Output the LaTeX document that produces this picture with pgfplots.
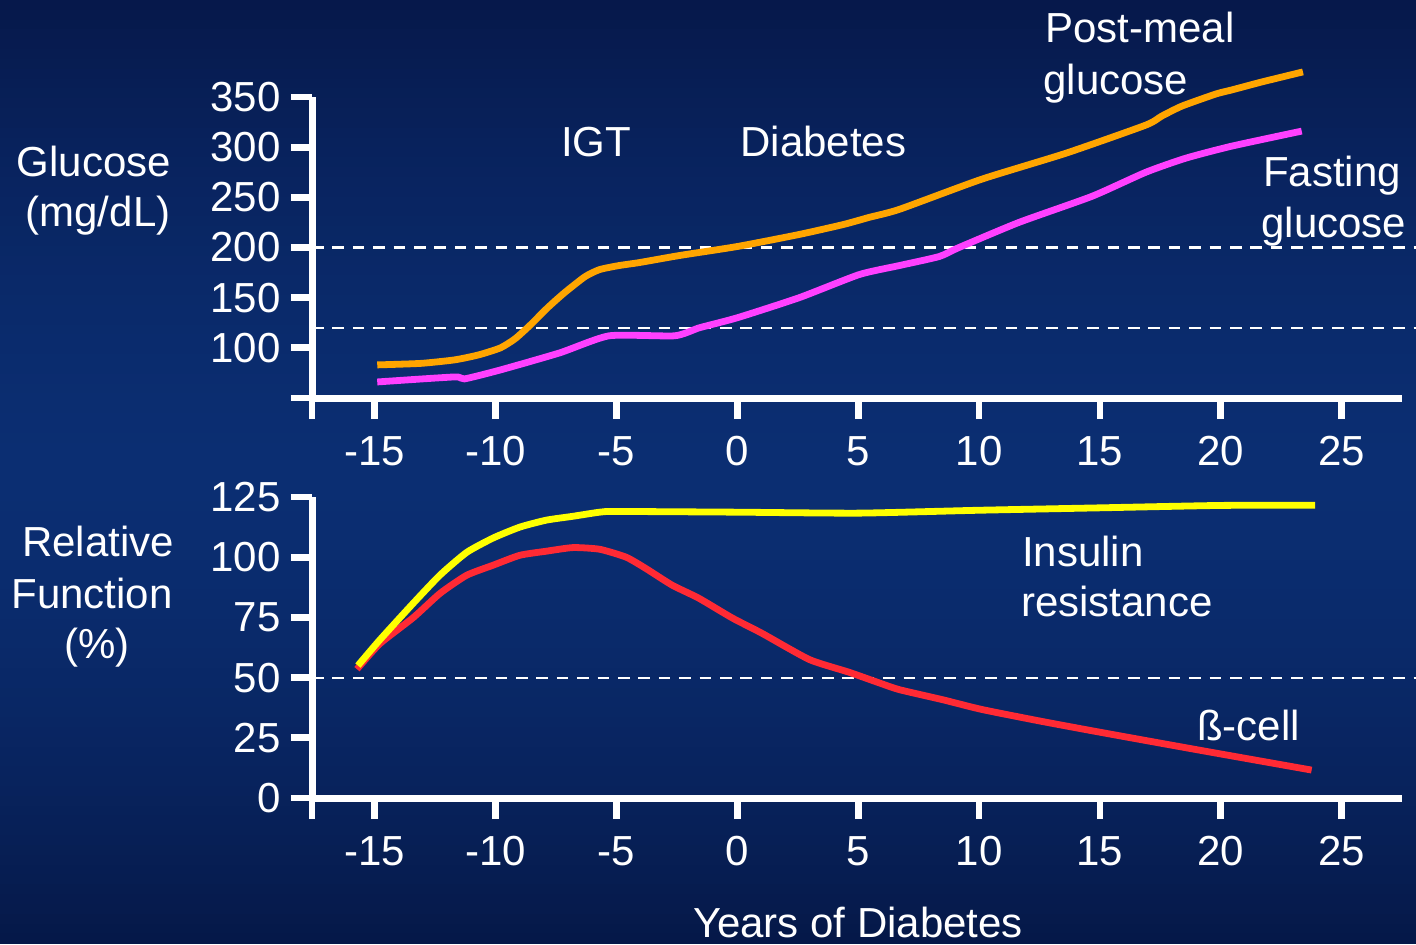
\documentclass[border=0pt]{standalone}
\usepackage{pgfplots}
\pgfplotsset{compat=1.18}
\usepackage{fontspec}
\setmainfont{Liberation Sans}

\definecolor{bgtop}{RGB}{6,24,74}
\definecolor{bgmid}{RGB}{11,46,114}
\definecolor{bgbot}{RGB}{5,24,72}
\definecolor{postmeal}{RGB}{255,165,0}
\definecolor{fasting}{RGB}{255,64,255}
\definecolor{insres}{RGB}{255,255,0}
\definecolor{betacell}{RGB}{255,42,52}

\newcommand{\lbl}{\fontsize{21}{25}\selectfont}

\tikzset{
  threshold/.style={white, line width=1.1pt, dash pattern=on 5.8pt off 4.4pt},
  curve/.style={line width=3.4pt, smooth, tension=0.35, line join=round},
}

\pgfplotsset{
  slide axis/.style={
    scale only axis, width=545pt, height=150.5pt,
    xmin=-17.6, xmax=27.5,
    axis lines=left,
    axis line style={-, white, line width=3.5pt},
    tick align=outside, major tick length=10.5pt,
    tick style={white, line width=3.4pt},
    xtick={-15,-10,...,25},
    extra x ticks={-17.6}, extra x tick labels={},
    ticklabel style={white, font=\lbl},
    xticklabel style={anchor=north, inner sep=0pt, yshift=-8.5pt},
    yticklabel style={anchor=east, inner sep=0pt, xshift=-5pt},
    /pgf/number format/assume math mode=true,
    clip=false,
  },
}

\begin{document}
\begin{tikzpicture}[x=1pt,y=1pt]
  % slide background: vertical gradient, lightest across the middle band
  \foreach \i in {0,...,47} {
    \pgfmathsetmacro\p{100*(1-((\i+0.5)/48)^1.6)}
    \pgfmathsetmacro\ya{236+\i*236/48}
    \pgfmathsetmacro\yb{236+(\i+1)*236/48+0.4}
    \fill[bgmid!\p!bgtop] (0,\ya) rectangle (708,\yb);
    \pgfmathsetmacro\yc{236-\i*236/48+0.4}
    \pgfmathsetmacro\yd{236-(\i+1)*236/48}
    \fill[bgmid!\p!bgbot] (0,\yd) rectangle (708,\yc);
  }

  % glucose panel
  \begin{axis}[slide axis, at={(156pt,273pt)}, anchor=south west,
      ymin=50, ymax=350, ytick={100,150,...,350},
      extra y ticks={50}, extra y tick labels={}]
    \draw[threshold] (axis cs:-17.6,200) -- (axis cs:28.2,200);
    \draw[threshold] (axis cs:-17.6,120) -- (axis cs:28.2,120);
    \addplot[curve, postmeal] coordinates {
      (-14.9,83) (-13.1,84.5) (-11.7,88) (-10.7,93) (-9.8,100) (-9.2,109)
      (-8.6,122) (-7.85,140) (-7.15,155) (-6.3,171) (-5.7,178) (-4.9,182)
      (-4.05,185) (-2.4,192) (0,201) (2.56,213) (4.4,223) (5.45,230)
      (6.7,238) (10.1,268) (13.6,294) (16.9,322) (17.56,331) (18.4,341)
      (19.8,353) (20.45,357) (21.7,365) (23.4,375)};
    \addplot[curve, fasting] coordinates {
      (-14.9,66) (-11.7,71) (-11.3,69) (-9.8,78) (-7.35,95) (-5.3,112)
      (-2.6,112) (-1.57,120) (0,130) (2.56,150) (5.04,173) (6.7,182)
      (8.35,191) (9.17,200) (11.65,225) (14.67,251) (16.9,275) (18.55,289)
      (20.45,301) (23.35,316)};
  \end{axis}

  % relative function panel
  \begin{axis}[slide axis, at={(156pt,73pt)}, anchor=south west,
      ymin=0, ymax=125, ytick={0,25,...,125}]
    \draw[threshold] (axis cs:-17.6,50) -- (axis cs:28.2,50);
    \addplot[curve, betacell] coordinates {
      (-15.74,53.5) (-14.8,64) (-13.4,75) (-12.3,85) (-11.2,92.5) (-10.1,96.7)
      (-9,100.8) (-7.9,102.5) (-6.8,104) (-5.7,103.3) (-4.6,100) (-3.8,95.4)
      (-2.7,88.4) (-1.6,83) (-0.2,74.7) (1,68.5) (2.98,57.5)
      (4.6,52.3) (5.9,47.7) (6.7,45) (8.5,40.8) (10.1,36.8) (12.5,32)
      (14.96,27.4) (19.1,19.9) (23.76,11.6)};
    \addplot[curve, insres] coordinates {
      (-15.7,55) (-14.8,65.6) (-13.4,81) (-12.3,92.6) (-11.2,102) (-10.1,108)
      (-9,112.5) (-7.9,115.4) (-6.8,117) (-5.7,118.7) (-5,119) (0,118.7)
      (5,118.3) (10,119.5) (15,120.5) (20,121.5) (23.9,121.6)};
  \end{axis}

  % annotations
  \begin{scope}[every node/.style={text=white, font=\lbl, inner sep=0pt}]
    \node[anchor=base] at (47,383.5) {Glucose};
    \node[anchor=base] at (49,358.5) {(mg/dL)};
    \node[anchor=base] at (298,393.5) {IGT};
    \node[anchor=base west] at (370,393.5) {Diabetes};
    \node[anchor=base west] at (522.5,450.7) {Post-meal};
    \node[anchor=base west] at (521.5,424.9) {glucose};
    \node[anchor=base west] at (631.4,378.7) {Fasting};
    \node[anchor=base west] at (630.5,353.4) {glucose};
    \node[anchor=base] at (49,194) {Relative};
    \node[anchor=base] at (46,168) {Function};
    \node[anchor=base] at (48.5,143) {(\%)};
    \node[anchor=base west] at (510.8,189) {Insulin};
    \node[anchor=base west] at (510.4,163.7) {resistance};
    \node[anchor=base west] at (598.4,102) {ß-cell};
    \node[anchor=base] at (429,3.5) {Years of Diabetes};
  \end{scope}

  \pgfresetboundingbox
  \path[use as bounding box] (0,0) rectangle (708,472);
\end{tikzpicture}
\end{document}
